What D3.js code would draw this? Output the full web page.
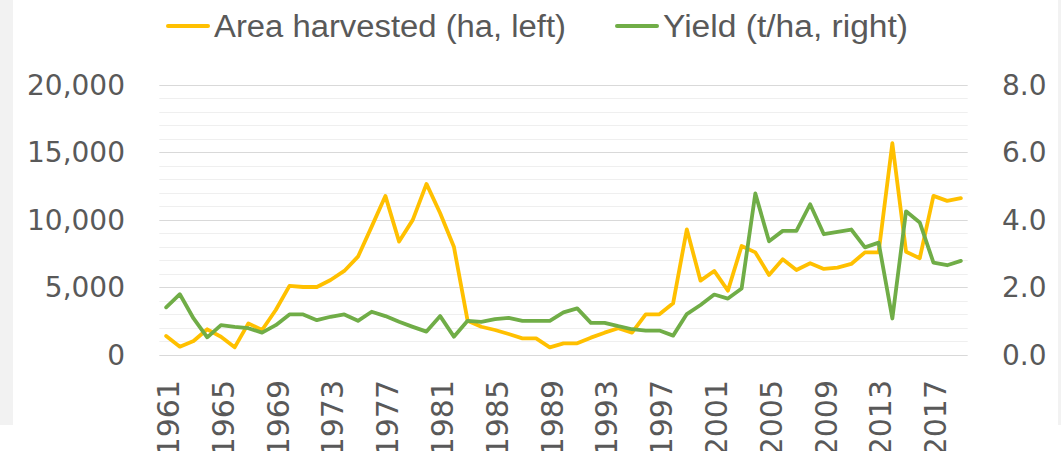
<!DOCTYPE html>
<meta charset="utf-8">
<html>
<head>
<style>
body { margin: 0; background: #fff; }
svg text { font-family: "DejaVu Sans", Verdana, sans-serif; fill: #595959; }
.legend text { font-family: "Liberation Sans Narrow", "Liberation Sans", sans-serif; }
</style>
</head>
<body>
<div id="chart"></div>
<script src="https://d3js.org/d3.v7.min.js"></script>
<script>

// years 1961 - 2019
var years = d3.range(1961, 2020);

// area harvested (ha), left axis
var area = [1370, 580, 1000, 1870, 1320, 530, 2310, 1820, 3300, 5090,
            5010, 5010, 5530, 6200, 7260, 9490, 11770, 8380, 9990, 12660,
            10480, 8000, 2510, 2060, 1820, 1520, 1200, 1200, 530, 830,
            830, 1250, 1620, 1950, 1620, 2980, 2980, 3800, 9290, 5480,
            6200, 4740, 8050, 7580, 5900, 7060, 6270, 6770, 6350, 6450,
            6720, 7580, 7580, 15680, 7630, 7140, 11770, 11400, 11600];

// yield (t/ha), right axis
var yieldVals = [1.40, 1.79, 1.07, 0.51, 0.87, 0.82, 0.78, 0.65, 0.87, 1.19,
                 1.19, 1.02, 1.12, 1.19, 1.00, 1.27, 1.14, 0.97, 0.82, 0.68,
                 1.14, 0.53, 1.00, 0.97, 1.05, 1.09, 1.00, 1.00, 1.00, 1.25,
                 1.37, 0.94, 0.94, 0.84, 0.75, 0.71, 0.71, 0.56, 1.20, 1.47,
                 1.78, 1.66, 1.96, 4.78, 3.36, 3.67, 3.67, 4.46, 3.57, 3.64,
                 3.71, 3.18, 3.32, 1.07, 4.25, 3.92, 2.73, 2.65, 2.78];

var leftTicks = [0, 5000, 10000, 15000, 20000];
var rightTicks = [0, 2, 4, 6, 8];
var yearLabels = years.filter(function(d) { return (d - 1961) % 4 === 0; });

var W = 1061, H = 451;
var plotLeft = 159.3, plotRight = 967.7, plotTop = 85, plotBottom = 354.5;

var svg = d3.select("#chart").append("svg")
  .attr("width", W)
  .attr("height", H);

// grey border strips of the original frame
svg.append("rect").attr("x", 0).attr("y", 0).attr("width", 13).attr("height", 425).attr("fill", "#f2f2f2");
svg.append("rect").attr("x", 1058).attr("y", 0).attr("width", 3).attr("height", 425).attr("fill", "#f2f2f2");

var x = d3.scaleBand()
  .domain(years)
  .range([plotLeft, plotRight]);

var yL = d3.scaleLinear().domain([0, 20000]).range([plotBottom, plotTop]);
var yR = d3.scaleLinear().domain([0, 8]).range([plotBottom, plotTop]);

function cx(d) { return x(d) + x.bandwidth() / 2; }

// minor gridlines every 1,000
svg.append("g")
  .selectAll("line")
  .data(d3.range(1000, 20000, 1000).filter(function(d) { return d % 5000 !== 0; }))
  .enter().append("line")
    .attr("x1", plotLeft).attr("x2", plotRight)
    .attr("y1", function(d) { return Math.round(yL(d)) + 0.5; })
    .attr("y2", function(d) { return Math.round(yL(d)) + 0.5; })
    .attr("stroke", "#efefef")
    .attr("stroke-width", 1);

// major gridlines
svg.append("g")
  .selectAll("line")
  .data(leftTicks)
  .enter().append("line")
    .attr("x1", plotLeft).attr("x2", plotRight)
    .attr("y1", function(d) { return Math.round(yL(d)) + 0.5; })
    .attr("y2", function(d) { return Math.round(yL(d)) + 0.5; })
    .attr("stroke", "#d9d9d9")
    .attr("stroke-width", 1);

// left axis labels
svg.append("g")
  .selectAll("text")
  .data(leftTicks)
  .enter().append("text")
    .attr("x", 125)
    .attr("y", function(d) { return yL(d); })
    .attr("dy", "0.36em")
    .attr("text-anchor", "end")
    .style("font-size", "28px")
    .text(function(d) { return d3.format(",")(d); });

// right axis labels
svg.append("g")
  .selectAll("text")
  .data(rightTicks)
  .enter().append("text")
    .attr("x", 1002)
    .attr("y", function(d) { return yR(d); })
    .attr("dy", "0.36em")
    .attr("text-anchor", "start")
    .style("font-size", "28px")
    .text(function(d) { return d3.format(".1f")(d); });

// year labels, rotated
svg.append("g")
  .selectAll("text")
  .data(yearLabels)
  .enter().append("text")
    .attr("transform", function(d) { return "translate(" + (cx(d) + 2) + ",380) rotate(-90)"; })
    .attr("dy", "0.36em")
    .attr("text-anchor", "end")
    .style("font-size", "30px")
    .text(function(d) { return d; });

// lines
var lineArea = d3.line()
  .x(function(d, i) { return cx(years[i]); })
  .y(function(d) { return yL(d); });

var lineYield = d3.line()
  .x(function(d, i) { return cx(years[i]); })
  .y(function(d) { return yR(d); });

svg.append("path")
  .datum(area)
  .attr("d", lineArea)
  .attr("fill", "none")
  .attr("stroke", "#FFC000")
  .attr("stroke-width", 3.8)
  .attr("stroke-linejoin", "round")
  .attr("stroke-linecap", "round");

svg.append("path")
  .datum(yieldVals)
  .attr("d", lineYield)
  .attr("fill", "none")
  .attr("stroke", "#70AD47")
  .attr("stroke-width", 3.8)
  .attr("stroke-linejoin", "round")
  .attr("stroke-linecap", "round");

// legend
var legend = svg.append("g").attr("class", "legend");
var items = [
  {label: "Area harvested (ha, left)", color: "#FFC000", x: 168, w: 352},
  {label: "Yield (t/ha, right)", color: "#70AD47", x: 617, w: 245}
];
items.forEach(function(it) {
  legend.append("line")
    .attr("x1", it.x).attr("x2", it.x + 40)
    .attr("y1", 26).attr("y2", 26)
    .attr("stroke", it.color)
    .attr("stroke-width", 4)
    .attr("stroke-linecap", "round");
  legend.append("text")
    .attr("x", it.x + 46)
    .attr("y", 37)
    .attr("textLength", it.w)
    .attr("lengthAdjust", "spacingAndGlyphs")
    .style("font-size", "31px")
    .text(it.label);
});

</script>
</body>
</html>
